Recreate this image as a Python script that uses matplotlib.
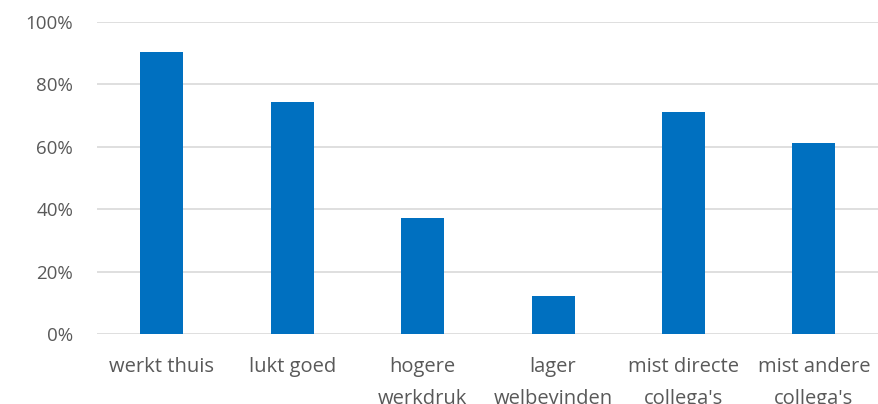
import matplotlib
matplotlib.use("Agg")
import matplotlib.pyplot as plt
from matplotlib.ticker import FuncFormatter

categories = ["werkt thuis", "lukt goed", "hogere\nwerkdruk", "lager\nwelbevinden",
              "mist directe\ncollega's", "mist andere\ncollega's"]
values = [90.4, 74.4, 37.2, 12.1, 71.3, 61.1]
yticks = [0, 20, 40, 60, 80, 100]

plt.rcParams['font.family'] = ['Open Sans', 'DejaVu Sans']

fig = plt.figure(figsize=(8.79, 4.04), dpi=100)
ax = fig.add_axes([0.110, 0.173, 0.890, 0.7725])

x = list(range(len(categories)))
ax.bar(x, values, width=0.33, color="#0070C0", zorder=3)
ax.set_xlim(-0.5, len(categories) - 0.5)
ax.set_ylim(0, 100)
ax.set_yticks(yticks)
ax.yaxis.set_major_formatter(FuncFormatter(lambda v, p: f"{int(v)}%"))
ax.set_xticks(x)
ax.set_xticklabels(categories, linespacing=1.8)
ax.grid(axis="y", color="#D9D9D9", linewidth=1.2, zorder=0)
for s in ax.spines.values():
    s.set_visible(False)
ax.tick_params(axis="both", length=0, labelcolor="#595959")
ax.tick_params(axis="y", pad=17, labelsize=13.5)
ax.tick_params(axis="x", pad=16.5, labelsize=14.5)
for lbl in ax.get_xticklabels():
    lbl.set_verticalalignment("top")

fig.savefig("out.png", dpi=100)
